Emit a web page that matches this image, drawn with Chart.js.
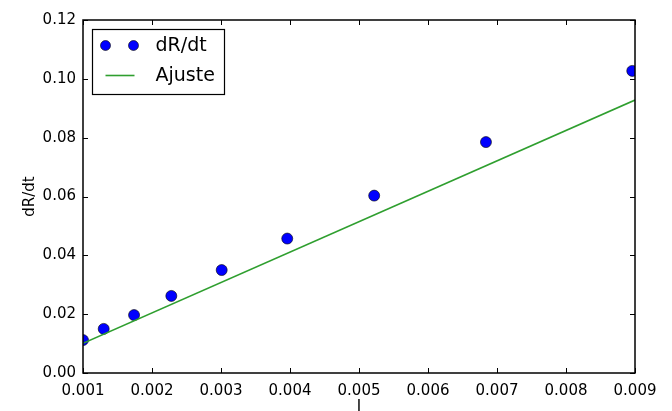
<!DOCTYPE html>
<html>
<head>
<meta charset="utf-8">
<script src="https://cdn.jsdelivr.net/npm/chart.js@4"></script>
<style>
    html, body { margin: 0; padding: 0; background: #fff; overflow: hidden; }
    #wrap { width: 672px; height: 411px; overflow: hidden; }
    #box { width: 672px; height: 440px; }
</style>
</head>
<body>
<div id="wrap"><div id="box"><canvas id="chart"></canvas></div></div>
<script>
// measured points (I, dR/dt)
const pointX = [0.00100, 0.00130, 0.00174, 0.00228, 0.00301, 0.00396, 0.00522, 0.00684, 0.00896];
const pointY = [0.0112, 0.0150, 0.0197, 0.0262, 0.0350, 0.0457, 0.0603, 0.0785, 0.1027];

// fitted line, two ends
const fitX = [0.001, 0.009];
const fitY = [0.0101, 0.0928];

const xTicks = [0.001, 0.002, 0.003, 0.004, 0.005, 0.006, 0.007, 0.008, 0.009];
const yTicks = [0.00, 0.02, 0.04, 0.06, 0.08, 0.10, 0.12];

const seriesNames = ["dR/dt", "Ajuste"];
const xTitle = "I";
const yTitle = "dR/dt";

const FONT = "'DejaVu Sans', sans-serif";
const GREEN = "#2f9f2f";

// frame + inward ticks on all four sides, like matplotlib
const framePlugin = {
    id: "frame",
    afterDatasetsDraw(chart) {
        const ctx = chart.ctx;
        const a = chart.chartArea;
        const xs = chart.scales.x, ys = chart.scales.y;
        ctx.save();
        ctx.strokeStyle = "#000";
        ctx.lineWidth = 1;
        ctx.beginPath();
        xTicks.forEach(v => {
            const px = Math.round(xs.getPixelForValue(v)) + 0.5;
            ctx.moveTo(px, a.bottom); ctx.lineTo(px, a.bottom - 5);
            ctx.moveTo(px, a.top); ctx.lineTo(px, a.top + 5);
        });
        yTicks.forEach(v => {
            const py = Math.round(ys.getPixelForValue(v)) + 0.5;
            ctx.moveTo(a.left, py); ctx.lineTo(a.left + 5, py);
            ctx.moveTo(a.right, py); ctx.lineTo(a.right - 5, py);
        });
        ctx.stroke();
        ctx.lineWidth = 1.5;
        ctx.strokeRect(a.left, a.top, a.right - a.left, a.bottom - a.top);
        ctx.restore();
    }
};

// legend box inside the plot, top left
const legendPlugin = {
    id: "boxLegend",
    afterDraw(chart) {
        const ctx = chart.ctx;
        const a = chart.chartArea;
        const x0 = a.left + 9.5, y0 = a.top + 9.5;
        ctx.save();
        ctx.fillStyle = "#fff";
        ctx.fillRect(x0, y0, 132, 65);
        ctx.strokeStyle = "#000";
        ctx.lineWidth = 1.2;
        ctx.strokeRect(x0, y0, 132, 65);

        // markers
        [x0 + 13, x0 + 41].forEach(mx => {
            ctx.beginPath();
            ctx.arc(mx, y0 + 16, 5, 0, Math.PI * 2);
            ctx.fillStyle = "#0000ff";
            ctx.fill();
            ctx.lineWidth = 0.6;
            ctx.strokeStyle = "#000";
            ctx.stroke();
        });
        // line sample
        ctx.beginPath();
        ctx.moveTo(x0 + 13, y0 + 46);
        ctx.lineTo(x0 + 42, y0 + 46);
        ctx.strokeStyle = GREEN;
        ctx.lineWidth = 1.6;
        ctx.stroke();

        ctx.fillStyle = "#000";
        ctx.font = "19px " + FONT;
        ctx.textBaseline = "middle";
        ctx.textAlign = "left";
        ctx.fillText(seriesNames[0], x0 + 63, y0 + 17);
        ctx.fillText(seriesNames[1], x0 + 63, y0 + 47);
        ctx.restore();
    }
};

new Chart(document.getElementById("chart"), {
    type: "scatter",
    data: {
        datasets: [
            {
                label: seriesNames[0],
                data: pointX.map((x, i) => ({ x: x, y: pointY[i] })),
                showLine: false,
                pointRadius: 5.5,
                pointBackgroundColor: "#0000ff",
                pointBorderColor: "#000",
                pointBorderWidth: 0.6,
                clip: 0,
                order: 1
            },
            {
                label: seriesNames[1],
                data: fitX.map((x, i) => ({ x: x, y: fitY[i] })),
                showLine: true,
                borderColor: GREEN,
                borderWidth: 1.6,
                pointRadius: 0,
                clip: 0,
                order: 0
            }
        ]
    },
    options: {
        responsive: true,
        maintainAspectRatio: false,
        animation: false,
        events: [],
        layout: { padding: { left: 0, right: 37, top: 20, bottom: 0 } },
        plugins: {
            legend: { display: false },
            tooltip: { enabled: false }
        },
        scales: {
            x: {
                type: "linear",
                min: 0.001,
                max: 0.009,
                afterBuildTicks: s => { s.ticks = xTicks.map(v => ({ value: v })); },
                afterFit: s => { s.height = 67; },
                grid: { display: false, drawTicks: false },
                border: { display: false },
                ticks: {
                    color: "#000",
                    font: { family: FONT, size: 15 },
                    padding: 9,
                    maxRotation: 0,
                    autoSkip: false,
                    callback: v => v.toFixed(3)
                },
                title: {
                    display: true,
                    text: xTitle,
                    color: "#000",
                    font: { family: FONT, size: 15 },
                    padding: { top: 0, bottom: 24 }
                }
            },
            y: {
                type: "linear",
                min: 0,
                max: 0.12,
                afterBuildTicks: s => { s.ticks = yTicks.map(v => ({ value: v })); },
                afterFit: s => { s.width = 83; },
                grid: { display: false, drawTicks: false },
                border: { display: false },
                ticks: {
                    color: "#000",
                    font: { family: FONT, size: 15 },
                    padding: 7,
                    autoSkip: false,
                    callback: v => v.toFixed(2)
                },
                title: {
                    display: true,
                    text: yTitle,
                    color: "#000",
                    font: { family: FONT, size: 15 },
                    padding: { top: 21, bottom: 0 }
                }
            }
        }
    },
    plugins: [framePlugin, legendPlugin]
});
</script>
</body>
</html>
